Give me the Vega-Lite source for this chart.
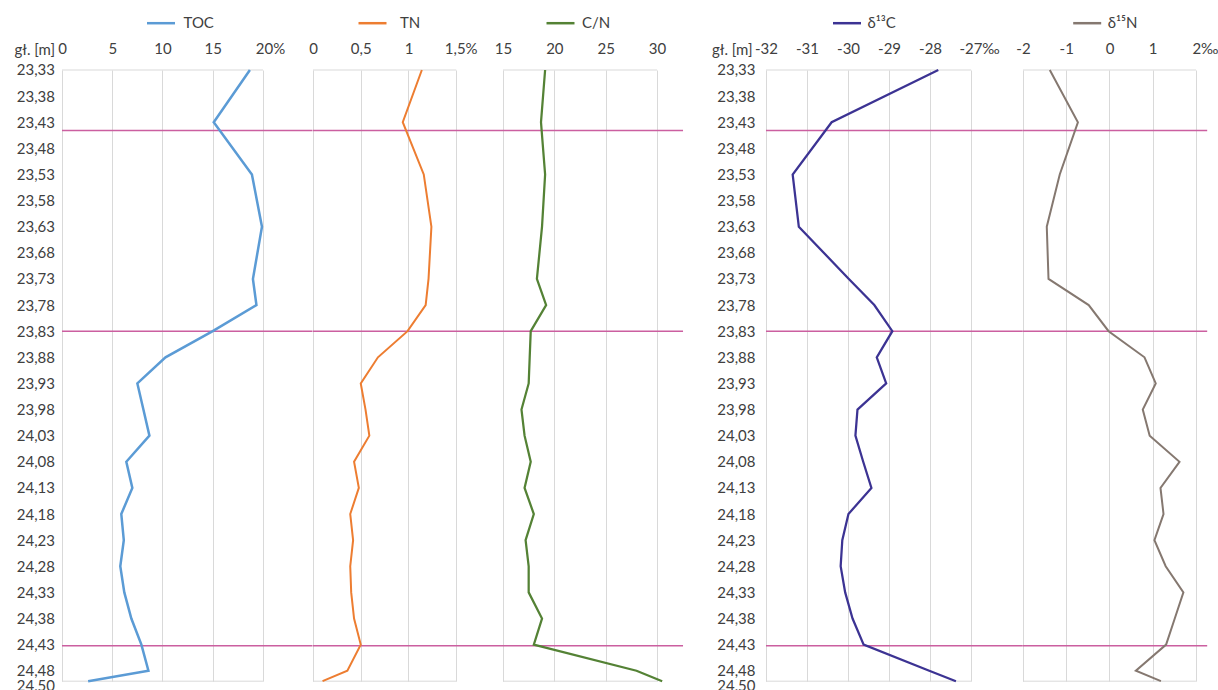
{
  "$schema": "https://vega.github.io/schema/vega-lite/v6.json",
  "background": "white",
  "padding": {"left": 14, "top": 7, "right": 0, "bottom": 0},
  "config": {
    "view": {"stroke": null},
    "font": "Lato",
    "axis": {
      "labelFont": "Lato", "labelFontSize": 15, "labelColor": "#404040",
      "titleFont": "Lato", "titleFontSize": 15, "titleFontWeight": "normal", "titleColor": "#404040",
      "labelFlush": false, "labelOverlap": false, "labelBound": false,
      "ticks": false, "domain": false, "gridColor": "#D9D9D9", "gridWidth": 1
    },
    "legend": {
      "orient": "none", "title": null, "labelFont": "Lato", "labelFontSize": 15, "labelColor": "#404040",
      "symbolType": "stroke", "symbolSize": 784, "symbolStrokeWidth": 2.5, "labelOffset": 7, "padding": 0
    }
  },
  "datasets": {
    "samples": [
      {"d": 23.33, "toc": 18.7, "tn": 1.14, "cn": 19.1, "c13": -27.8, "n15": -1.38},
      {"d": 23.43, "toc": 15.1, "tn": 0.94, "cn": 18.7, "c13": -30.4, "n15": -0.73},
      {"d": 23.53, "toc": 18.9, "tn": 1.16, "cn": 19.1, "c13": -31.35, "n15": -1.15},
      {"d": 23.63, "toc": 19.9, "tn": 1.24, "cn": 18.8, "c13": -31.2, "n15": -1.45},
      {"d": 23.73, "toc": 19.0, "tn": 1.21, "cn": 18.3, "c13": -29.98, "n15": -1.41},
      {"d": 23.78, "toc": 19.35, "tn": 1.18, "cn": 19.2, "c13": -29.36, "n15": -0.48},
      {"d": 23.83, "toc": 15.0, "tn": 0.99, "cn": 17.7, "c13": -28.92, "n15": -0.02},
      {"d": 23.88, "toc": 10.3, "tn": 0.68, "cn": 17.6, "c13": -29.3, "n15": 0.81},
      {"d": 23.93, "toc": 7.5, "tn": 0.5, "cn": 17.5, "c13": -29.07, "n15": 1.07},
      {"d": 23.98, "toc": 8.1, "tn": 0.55, "cn": 16.8, "c13": -29.77, "n15": 0.77},
      {"d": 24.03, "toc": 8.7, "tn": 0.59, "cn": 17.1, "c13": -29.82, "n15": 0.93},
      {"d": 24.08, "toc": 6.4, "tn": 0.43, "cn": 17.7, "c13": -29.63, "n15": 1.62},
      {"d": 24.13, "toc": 7.0, "tn": 0.48, "cn": 17.1, "c13": -29.43, "n15": 1.18},
      {"d": 24.18, "toc": 5.9, "tn": 0.39, "cn": 18.0, "c13": -29.99, "n15": 1.25},
      {"d": 24.23, "toc": 6.15, "tn": 0.42, "cn": 17.2, "c13": -30.14, "n15": 1.04},
      {"d": 24.28, "toc": 5.8, "tn": 0.39, "cn": 17.5, "c13": -30.18, "n15": 1.3},
      {"d": 24.33, "toc": 6.2, "tn": 0.4, "cn": 17.5, "c13": -30.07, "n15": 1.71},
      {"d": 24.38, "toc": 6.9, "tn": 0.43, "cn": 18.8, "c13": -29.89, "n15": 1.51},
      {"d": 24.43, "toc": 7.9, "tn": 0.5, "cn": 18.0, "c13": -29.62, "n15": 1.31},
      {"d": 24.48, "toc": 8.6, "tn": 0.36, "cn": 28.0, "c13": -28.02, "n15": 0.61},
      {"d": 24.5, "toc": 2.6, "tn": 0.1, "cn": 30.5, "c13": -27.37, "n15": 1.19}
    ],
    "boundaries": [{"d": 23.446}, {"d": 23.83}, {"d": 24.432}],
    "frame": [{"d": 23.33}, {"d": 24.5}]
  },
  "spacing": 0,
  "bounds": "flush",
  "resolve": {"scale": {"x": "independent", "y": "independent", "color": "independent"}, "legend": {"color": "independent"}},
  "hconcat": [
    {
      "width": 250.5, "height": 611.2,
      "encoding": {
        "y": {
          "field": "d", "type": "quantitative",
          "scale": {"domain": [23.33, 24.5], "reverse": true, "nice": false, "zero": false},
          "axis": {
            "values": [23.33, 23.38, 23.43, 23.48, 23.53, 23.58, 23.63, 23.68, 23.73, 23.78, 23.83, 23.88, 23.93, 23.98, 24.03, 24.08, 24.13, 24.18, 24.23, 24.28, 24.33, 24.38, 24.43, 24.48, 24.5],
            "title": "gł. [m]", "titleAngle": 0, "titleAlign": "right", "titleBaseline": "middle",
            "titleX": -7.5, "titleY": -20.3, "labelPadding": 7.5, "grid": false,
            "labelExpr": "replace(format(datum.value, '.2f'), '.', ',')",
            "labelOffset": {"condition": {"test": "datum.value > 24.49", "value": 4}, "value": 0}
          }
        }
      },
      "layer": [
        {
          "data": {"name": "frame"},
          "mark": {"type": "rule", "color": "#D9D9D9", "strokeWidth": 1},
          "encoding": {
            "x": {
              "datum": 0, "type": "quantitative",
              "axis": {
                "orient": "top", "values": [0, 5, 10, 15, 20], "title": null, "grid": true, "labelPadding": 13,
                "labelExpr": "datum.value == 20 ? '20%' : toString(datum.value)",
                "labelOffset": {"condition": {"test": "datum.value == 20", "value": 7}, "value": 0}
              }
            },
            "x2": {"datum": 20}
          }
        },
        {
          "data": {"name": "boundaries"},
          "mark": {"type": "rule", "color": "#CB5FA0", "strokeWidth": 1.5},
          "encoding": {}
        },
        {
          "data": {"name": "samples"},
          "mark": {"type": "line", "strokeWidth": 2.5},
          "encoding": {
            "x": {
              "field": "toc", "type": "quantitative",
              "scale": {"domain": [0, 24.93], "nice": false, "zero": false},
              "axis": {
                "orient": "top", "values": [0, 5, 10, 15, 20], "title": null, "grid": true, "labelPadding": 13,
                "labelExpr": "datum.value == 20 ? '20%' : toString(datum.value)",
                "labelOffset": {"condition": {"test": "datum.value == 20", "value": 7}, "value": 0}
              }
            },
            "order": {"field": "d"},
            "color": {"datum": "TOC", "type": "nominal", "scale": {"range": ["#5B9BD5"]},
              "legend": {"legendX": 83.5, "legendY": -62.3}}
          }
        }
      ]
    },
    {
      "width": 190, "height": 611.2,
      "encoding": {
        "y": {
          "field": "d", "type": "quantitative",
          "scale": {"domain": [23.33, 24.5], "reverse": true, "nice": false, "zero": false},
          "axis": null
        }
      },
      "layer": [
        {
          "data": {"name": "frame"},
          "mark": {"type": "rule", "color": "#D9D9D9", "strokeWidth": 1},
          "encoding": {
            "x": {
              "datum": 0, "type": "quantitative",
              "axis": {
                "orient": "top", "values": [0, 0.5, 1, 1.5], "title": null, "grid": true, "labelPadding": 13,
                "labelExpr": "datum.value == 1.5 ? '1,5%' : replace(toString(datum.value), '.', ',')",
                "labelOffset": {"condition": {"test": "datum.value == 1.5", "value": 4.5}, "value": 0}
              }
            },
            "x2": {"datum": 1.5}
          }
        },
        {
          "data": {"name": "boundaries"},
          "mark": {"type": "rule", "color": "#CB5FA0", "strokeWidth": 1.5},
          "encoding": {}
        },
        {
          "data": {"name": "samples"},
          "mark": {"type": "line", "strokeWidth": 2},
          "encoding": {
            "x": {
              "field": "tn", "type": "quantitative",
              "scale": {"domain": [0, 1.99], "nice": false, "zero": false},
              "axis": {
                "orient": "top", "values": [0, 0.5, 1, 1.5], "title": null, "grid": true, "labelPadding": 13,
                "labelExpr": "datum.value == 1.5 ? '1,5%' : replace(toString(datum.value), '.', ',')",
                "labelOffset": {"condition": {"test": "datum.value == 1.5", "value": 4.5}, "value": 0}
              }
            },
            "order": {"field": "d"},
            "color": {"datum": "TN", "type": "nominal", "scale": {"range": ["#ED7D31"]},
              "legend": {"legendX": 44, "legendY": -62.3, "labelOffset": 12}}
          }
        }
      ]
    },
    {
      "width": 262.5, "height": 611.2,
      "encoding": {
        "y": {
          "field": "d", "type": "quantitative",
          "scale": {"domain": [23.33, 24.5], "reverse": true, "nice": false, "zero": false},
          "axis": null
        }
      },
      "layer": [
        {
          "data": {"name": "frame"},
          "mark": {"type": "rule", "color": "#D9D9D9", "strokeWidth": 1},
          "encoding": {
            "x": {
              "datum": 15, "type": "quantitative",
              "axis": {
                "orient": "top", "values": [15, 20, 25, 30], "title": null, "grid": true, "labelPadding": 13,
                "labelExpr": "toString(datum.value)"
              }
            },
            "x2": {"datum": 30}
          }
        },
        {
          "data": {"name": "boundaries"},
          "mark": {"type": "rule", "color": "#CB5FA0", "strokeWidth": 1.5},
          "encoding": {
            "x": {
              "datum": 15, "type": "quantitative",
              "axis": {
                "orient": "top", "values": [15, 20, 25, 30], "title": null, "grid": true, "labelPadding": 13,
                "labelExpr": "toString(datum.value)"
              }
            },
            "x2": {"datum": 32.53}
          }
        },
        {
          "data": {"name": "samples"},
          "mark": {"type": "line", "strokeWidth": 2.25},
          "encoding": {
            "x": {
              "field": "cn", "type": "quantitative",
              "scale": {"domain": [15, 40.56], "nice": false, "zero": false},
              "axis": {
                "orient": "top", "values": [15, 20, 25, 30], "title": null, "grid": true, "labelPadding": 13,
                "labelExpr": "toString(datum.value)"
              }
            },
            "order": {"field": "d"},
            "color": {"datum": "C/N", "type": "nominal", "scale": {"range": ["#548235"]},
              "legend": {"legendX": 42, "legendY": -62.3, "labelOffset": 6}}
          }
        }
      ]
    },
    {
      "width": 256.8, "height": 611.2,
      "encoding": {
        "y": {
          "field": "d", "type": "quantitative",
          "scale": {"domain": [23.33, 24.5], "reverse": true, "nice": false, "zero": false},
          "axis": {
            "values": [23.33, 23.38, 23.43, 23.48, 23.53, 23.58, 23.63, 23.68, 23.73, 23.78, 23.83, 23.88, 23.93, 23.98, 24.03, 24.08, 24.13, 24.18, 24.23, 24.28, 24.33, 24.38, 24.43, 24.48, 24.5],
            "title": "gł. [m]", "titleAngle": 0, "titleAlign": "right", "titleBaseline": "middle",
            "titleX": -14, "titleY": -20.3, "labelPadding": 11, "grid": false,
            "labelExpr": "replace(format(datum.value, '.2f'), '.', ',')",
            "labelOffset": {"condition": {"test": "datum.value > 24.49", "value": 4}, "value": 0}
          }
        }
      },
      "layer": [
        {
          "data": {"name": "frame"},
          "mark": {"type": "rule", "color": "#D9D9D9", "strokeWidth": 1},
          "encoding": {
            "x": {
              "datum": -32, "type": "quantitative",
              "axis": {
                "orient": "top", "values": [-32, -31, -30, -29, -28, -27], "title": null, "grid": true, "labelPadding": 13,
                "labelExpr": "datum.value == -27 ? '-27‰' : toString(datum.value)",
                "labelOffset": {"condition": {"test": "datum.value == -27", "value": 8}, "value": 0}
              }
            },
            "x2": {"datum": -27}
          }
        },
        {
          "data": {"name": "boundaries"},
          "mark": {"type": "rule", "color": "#CB5FA0", "strokeWidth": 1.5},
          "encoding": {}
        },
        {
          "data": {"name": "samples"},
          "mark": {"type": "line", "strokeWidth": 2.25},
          "encoding": {
            "x": {
              "field": "c13", "type": "quantitative",
              "scale": {"domain": [-32, -25.74], "nice": false, "zero": false},
              "axis": {
                "orient": "top", "values": [-32, -31, -30, -29, -28, -27], "title": null, "grid": true, "labelPadding": 13,
                "labelExpr": "datum.value == -27 ? '-27‰' : toString(datum.value)",
                "labelOffset": {"condition": {"test": "datum.value == -27", "value": 8}, "value": 0}
              }
            },
            "order": {"field": "d"},
            "color": {"datum": "δ¹³C", "type": "nominal", "scale": {"range": ["#3C3393"]},
              "legend": {"legendX": 65.5, "legendY": -62.3, "labelOffset": 5}}
          }
        }
      ]
    },
    {
      "width": 184.2, "height": 611.2,
      "encoding": {
        "y": {
          "field": "d", "type": "quantitative",
          "scale": {"domain": [23.33, 24.5], "reverse": true, "nice": false, "zero": false},
          "axis": null
        }
      },
      "layer": [
        {
          "data": {"name": "frame"},
          "mark": {"type": "rule", "color": "#D9D9D9", "strokeWidth": 1},
          "encoding": {
            "x": {
              "datum": -2, "type": "quantitative",
              "axis": {
                "orient": "top", "values": [-2, -1, 0, 1, 2], "title": null, "grid": true, "labelPadding": 13,
                "labelExpr": "datum.value == 2 ? '2‰' : toString(datum.value)",
                "labelOffset": {"condition": {"test": "datum.value == 2", "value": 9}, "value": 0}
              }
            },
            "x2": {"datum": 2}
          }
        },
        {
          "data": {"name": "boundaries"},
          "mark": {"type": "rule", "color": "#CB5FA0", "strokeWidth": 1.5},
          "encoding": {}
        },
        {
          "data": {"name": "samples"},
          "mark": {"type": "line", "strokeWidth": 2},
          "encoding": {
            "x": {
              "field": "n15", "type": "quantitative",
              "scale": {"domain": [-2, 2.26], "nice": false, "zero": false},
              "axis": {
                "orient": "top", "values": [-2, -1, 0, 1, 2], "title": null, "grid": true, "labelPadding": 13,
                "labelExpr": "datum.value == 2 ? '2‰' : toString(datum.value)",
                "labelOffset": {"condition": {"test": "datum.value == 2", "value": 9}, "value": 0}
              }
            },
            "order": {"field": "d"},
            "color": {"datum": "δ¹⁵N", "type": "nominal", "scale": {"range": ["#857870"]},
              "legend": {"legendX": 48.7, "legendY": -62.3, "labelOffset": 5}}
          }
        }
      ]
    }
  ]
}
